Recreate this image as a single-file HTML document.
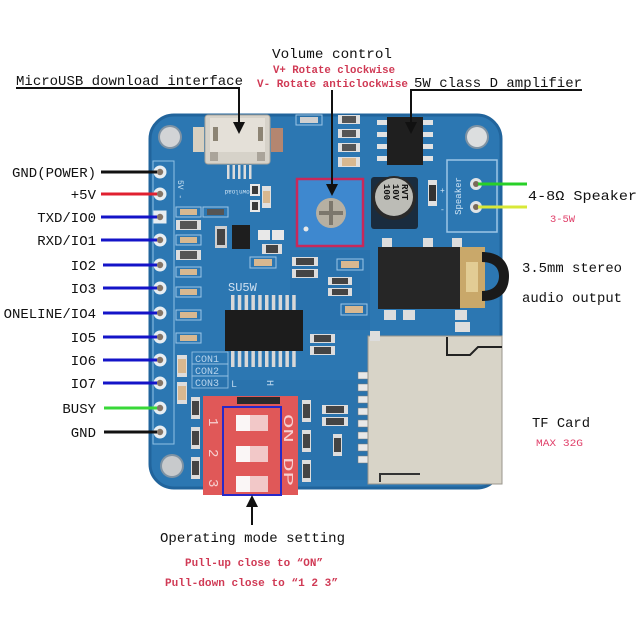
<!DOCTYPE html>
<html><head><meta charset="utf-8"><style>
html,body{margin:0;padding:0;background:#fff;}
svg{display:block}
text{font-family:"Liberation Mono","Noto Sans CJK SC",monospace;}
</style></head><body>
<svg width="639" height="639" viewBox="0 0 639 639" xmlns="http://www.w3.org/2000/svg">
<rect width="639" height="639" fill="#fff"/>

<!-- BOARD -->
<rect x="150" y="115" width="351" height="373" rx="24" fill="#2c77b2" stroke="#21649c" stroke-width="3"/>
<rect x="290" y="250" width="80" height="80" fill="#2870aa" opacity="0.6"/>
<rect x="200" y="380" width="170" height="100" fill="#276fa8" opacity="0.5"/>

<!-- header silkscreen -->
<rect x="153" y="161" width="21" height="283" fill="none" stroke="#8fc0e4" stroke-width="1"/>
<text x="0" y="0" font-size="8" fill="#cfe4f4" transform="translate(178,180) rotate(90)">5V -</text>

<!-- mounting holes -->
<circle cx="170" cy="137" r="12" fill="#7f93a4"/><circle cx="170" cy="137" r="10" fill="#d2d4d6"/>
<circle cx="477" cy="137" r="12" fill="#7f93a4"/><circle cx="477" cy="137" r="10" fill="#dcdedf"/>
<circle cx="172" cy="466" r="12" fill="#7f93a4"/><circle cx="172" cy="466" r="10" fill="#c8cacc"/>

<!-- USB -->
<rect x="193" y="127" width="11" height="25" fill="#d8d0c0"/>
<rect x="271" y="128" width="12" height="24" fill="#b48670"/>
<rect x="205" y="115" width="65" height="49" rx="3" fill="#d6d2c9" stroke="#a8a49c"/>
<rect x="210" y="118" width="55" height="34" fill="#e4e0d8"/>
<rect x="213" y="127" width="5" height="14" fill="#8c8474"/>
<rect x="258" y="127" width="5" height="14" fill="#8c8474"/>
<rect x="210" y="152" width="8" height="9" fill="#aaa49a"/>
<rect x="257" y="152" width="8" height="9" fill="#aaa49a"/>
<g fill="#dcdcdc"><rect x="227" y="165" width="2.5" height="14"/><rect x="232.5" y="165" width="2.5" height="14"/><rect x="238" y="165" width="2.5" height="14"/><rect x="243.5" y="165" width="2.5" height="14"/><rect x="249" y="165" width="2.5" height="14"/></g>
<text x="0" y="0" font-size="6" fill="#cfe4f4" transform="translate(239,190) scale(-1,-1)" text-anchor="middle">Download</text>

<!-- small SMDs top middle -->
<g>
<rect x="250" y="184" width="10" height="12" fill="#e8e8e8"/><rect x="252" y="186" width="6" height="8" fill="#3a3a3a"/>
<rect x="250" y="200" width="10" height="12" fill="#e8e8e8"/><rect x="252" y="202" width="6" height="8" fill="#3a3a3a"/>
<rect x="262" y="186" width="9" height="22" fill="#e0e0e0"/><rect x="263" y="191" width="7" height="12" fill="#d8b890"/>
<rect x="296" y="115" width="26" height="10" fill="none" stroke="#9cc6e6"/><rect x="300" y="117" width="18" height="6" fill="#d0d0d0"/>
<rect x="338" y="115" width="22" height="9" fill="#e0e0e0"/><rect x="342" y="116" width="14" height="7" fill="#555"/>
<rect x="338" y="129" width="22" height="9" fill="#e0e0e0"/><rect x="342" y="130" width="14" height="7" fill="#555"/>
<rect x="338" y="143" width="22" height="9" fill="#e0e0e0"/><rect x="342" y="144" width="14" height="7" fill="#555"/>
<rect x="338" y="157" width="22" height="10" fill="#e0e0e0"/><rect x="342" y="158" width="14" height="8" fill="#d8b890"/>
</g>

<!-- POT -->
<rect x="297" y="179" width="66" height="67" fill="#3e88cf" stroke="#c8285a" stroke-width="2.5"/>
<circle cx="331" cy="213" r="15" fill="#b6b0a2"/>
<path d="M331,201 V225 M319,213 H343" stroke="#7c776c" stroke-width="4"/>
<circle cx="306" cy="229" r="2.5" fill="#e8e8e8"/>

<!-- AMP chip -->
<g fill="#e2e2e2">
<rect x="377" y="120" width="11" height="5"/><rect x="377" y="132" width="11" height="5"/><rect x="377" y="144" width="11" height="5"/><rect x="377" y="156" width="11" height="5"/>
<rect x="422" y="120" width="11" height="5"/><rect x="422" y="132" width="11" height="5"/><rect x="422" y="144" width="11" height="5"/><rect x="422" y="156" width="11" height="5"/>
</g>
<rect x="387" y="117" width="36" height="48" fill="#1f1f1f"/>

<!-- CAP -->
<rect x="371" y="177" width="47" height="52" rx="3" fill="#1a2c3e"/>
<circle cx="394" cy="198" r="22" fill="#2a2a2a"/>
<circle cx="394" cy="197" r="19" fill="#bcbcb6"/>
<g font-size="9" font-weight="bold" fill="#111">
<text transform="translate(384,184) rotate(90)">100</text>
<text transform="translate(393,184) rotate(90)">10V</text>
<text transform="translate(402,184) rotate(90)">RVT</text>
</g>
<rect x="428" y="180" width="9" height="26" fill="#e0e0e0"/><rect x="429" y="185" width="7" height="16" fill="#333"/>
<text x="440" y="193" font-size="8" fill="#cfe4f4">+</text>
<text x="440" y="212" font-size="8" fill="#cfe4f4">-</text>

<!-- SPEAKER box -->
<rect x="447" y="160" width="50" height="72" fill="none" stroke="#9cc6e6" stroke-width="1.5"/>
<text x="0" y="0" font-size="9" fill="#cfe4f4" text-anchor="middle" transform="translate(461,196) rotate(-90)">Speaker</text>
<circle cx="476" cy="184" r="6" fill="#e0e4e6"/><circle cx="476" cy="184" r="3" fill="#7a6a5a"/>
<circle cx="476" cy="207" r="6" fill="#e0e4e6"/><circle cx="476" cy="207" r="3" fill="#7a6a5a"/>

<!-- JACK -->
<rect x="382" y="238" width="10" height="9" fill="#ddd"/><rect x="423" y="238" width="10" height="9" fill="#ddd"/><rect x="452" y="238" width="10" height="9" fill="#ddd"/>
<rect x="378" y="247" width="82" height="62" fill="#262626"/>
<rect x="460" y="247" width="25" height="61" fill="#c9a86a"/>
<rect x="466" y="262" width="12" height="30" fill="#e2cc94"/>
<path d="M482,252 C500,252 509,262 509,276 C509,292 500,301 482,301 L482,291 C494,291 499,284 499,276 C499,268 494,262 482,262 Z" fill="#1a1a1a"/>
<rect x="384" y="310" width="12" height="10" fill="#ddd"/><rect x="403" y="310" width="12" height="10" fill="#ddd"/><rect x="455" y="310" width="12" height="10" fill="#ddd"/>

<!-- SD CARD -->
<rect x="455" y="322" width="15" height="10" fill="#ddd"/>
<g fill="#e8e8e8" stroke="#777" stroke-width="0.5">
<rect x="358" y="372" width="11" height="7"/><rect x="358" y="384" width="11" height="7"/><rect x="358" y="396" width="11" height="7"/><rect x="358" y="408" width="11" height="7"/>
<rect x="358" y="420" width="11" height="7"/><rect x="358" y="432" width="11" height="7"/><rect x="358" y="444" width="11" height="7"/><rect x="358" y="456" width="11" height="7"/>
</g>
<rect x="368" y="336" width="134" height="148" fill="#d8d4c8" stroke="#9a968c"/>
<path d="M447,337 V355 H470 L478,347 H502" fill="none" stroke="#222" stroke-width="2"/>
<path d="M380,482 V474 H420" fill="none" stroke="#333" stroke-width="2"/>
<rect x="370" y="331" width="10" height="10" fill="#ddd"/>

<!-- MAIN CHIP -->
<text x="228" y="291" font-size="12" fill="#cfe0f0">SU5W</text>
<g fill="#d8d8d8">
<rect x="231" y="295" width="3.5" height="16"/><rect x="237.8" y="295" width="3.5" height="16"/><rect x="244.6" y="295" width="3.5" height="16"/><rect x="251.4" y="295" width="3.5" height="16"/><rect x="258.2" y="295" width="3.5" height="16"/><rect x="265" y="295" width="3.5" height="16"/><rect x="271.8" y="295" width="3.5" height="16"/><rect x="278.6" y="295" width="3.5" height="16"/><rect x="285.4" y="295" width="3.5" height="16"/><rect x="292.2" y="295" width="3.5" height="16"/>
<rect x="231" y="350" width="3.5" height="17"/><rect x="237.8" y="350" width="3.5" height="17"/><rect x="244.6" y="350" width="3.5" height="17"/><rect x="251.4" y="350" width="3.5" height="17"/><rect x="258.2" y="350" width="3.5" height="17"/><rect x="265" y="350" width="3.5" height="17"/><rect x="271.8" y="350" width="3.5" height="17"/><rect x="278.6" y="350" width="3.5" height="17"/><rect x="285.4" y="350" width="3.5" height="17"/><rect x="292.2" y="350" width="3.5" height="17"/>
</g>
<rect x="225" y="310" width="78" height="41" fill="#1c1c1c"/>

<!-- misc SMDs middle -->
<g>
<rect x="232" y="225" width="18" height="24" fill="#1e1e1e"/>
<rect x="215" y="226" width="12" height="22" fill="#cfcfcf"/><rect x="217" y="229" width="8" height="16" fill="#444"/>
<rect x="258" y="230" width="12" height="10" fill="#e8e8e8"/><rect x="272" y="230" width="12" height="10" fill="#e8e8e8"/>
<rect x="262" y="244" width="20" height="10" fill="#ddd"/><rect x="266" y="245" width="12" height="8" fill="#444"/>
<rect x="250" y="257" width="26" height="11" fill="none" stroke="#9cc6e6"/><rect x="254" y="259" width="18" height="7" fill="#d8b890"/>
<rect x="292" y="257" width="26" height="9" fill="#ddd"/><rect x="296" y="258" width="18" height="7" fill="#444"/>
<rect x="292" y="269" width="26" height="9" fill="#ddd"/><rect x="296" y="270" width="18" height="7" fill="#444"/>
<rect x="337" y="259" width="26" height="11" fill="none" stroke="#9cc6e6"/><rect x="341" y="261" width="18" height="7" fill="#d8b890"/>
<rect x="328" y="277" width="24" height="8" fill="#ddd"/><rect x="332" y="278" width="16" height="6" fill="#444"/>
<rect x="328" y="288" width="24" height="8" fill="#ddd"/><rect x="332" y="289" width="16" height="6" fill="#444"/>
<rect x="341" y="304" width="26" height="11" fill="none" stroke="#9cc6e6"/><rect x="345" y="306" width="18" height="7" fill="#d8b890"/>
<rect x="310" y="334" width="25" height="9" fill="#ddd"/><rect x="314" y="335" width="17" height="7" fill="#444"/>
<rect x="310" y="346" width="25" height="9" fill="#ddd"/><rect x="314" y="347" width="17" height="7" fill="#444"/>
<rect x="322" y="405" width="26" height="9" fill="#ddd"/><rect x="326" y="406" width="18" height="7" fill="#444"/>
<rect x="322" y="417" width="26" height="9" fill="#ddd"/><rect x="326" y="418" width="18" height="7" fill="#444"/>
<rect x="333" y="434" width="9" height="22" fill="#ddd"/><rect x="334" y="438" width="7" height="14" fill="#444"/>
<rect x="302" y="400" width="9" height="22" fill="#ddd"/><rect x="303" y="404" width="7" height="14" fill="#444"/>
<rect x="302" y="430" width="9" height="22" fill="#ddd"/><rect x="303" y="434" width="7" height="14" fill="#444"/>
<rect x="302" y="460" width="9" height="22" fill="#ddd"/><rect x="303" y="464" width="7" height="14" fill="#444"/>
</g>

<!-- left column SMDs -->
<g>
<rect x="176" y="207" width="25" height="10" fill="none" stroke="#9cc6e6"/><rect x="180" y="209" width="17" height="6" fill="#d8b890"/>
<rect x="203" y="207" width="25" height="10" fill="none" stroke="#9cc6e6"/><rect x="207" y="209" width="17" height="6" fill="#555"/>
<rect x="176" y="220" width="25" height="10" fill="#ddd"/><rect x="180" y="221" width="17" height="8" fill="#555"/>
<rect x="176" y="235" width="25" height="10" fill="none" stroke="#9cc6e6"/><rect x="180" y="237" width="17" height="6" fill="#d8b890"/>
<rect x="176" y="250" width="25" height="10" fill="#ddd"/><rect x="180" y="251" width="17" height="8" fill="#555"/>
<rect x="176" y="267" width="25" height="10" fill="none" stroke="#9cc6e6"/><rect x="180" y="269" width="17" height="6" fill="#d8b890"/>
<rect x="176" y="287" width="25" height="10" fill="none" stroke="#9cc6e6"/><rect x="180" y="289" width="17" height="6" fill="#d8b890"/>
<rect x="176" y="310" width="25" height="10" fill="none" stroke="#9cc6e6"/><rect x="180" y="312" width="17" height="6" fill="#d8b890"/>
<rect x="176" y="333" width="25" height="10" fill="none" stroke="#9cc6e6"/><rect x="180" y="335" width="17" height="6" fill="#d8b890"/>
<rect x="177" y="355" width="10" height="22" fill="#ddd"/><rect x="178" y="359" width="8" height="14" fill="#d8b890"/>
<rect x="177" y="382" width="10" height="22" fill="#ddd"/><rect x="178" y="386" width="8" height="14" fill="#d8b890"/>
<rect x="191" y="397" width="9" height="22" fill="#ddd"/><rect x="192" y="401" width="7" height="14" fill="#444"/>
<rect x="191" y="427" width="9" height="22" fill="#ddd"/><rect x="192" y="431" width="7" height="14" fill="#444"/>
<rect x="191" y="457" width="9" height="22" fill="#ddd"/><rect x="192" y="461" width="7" height="14" fill="#444"/>
</g>

<!-- CON labels -->
<g fill="none" stroke="#9cc6e6" stroke-width="0.8">
<rect x="192" y="352" width="36" height="12"/><rect x="192" y="364" width="36" height="12"/><rect x="192" y="376" width="36" height="12"/>
</g>
<g font-size="10" fill="#b8d4ec">
<text x="195" y="362">CON1</text><text x="195" y="374">CON2</text><text x="195" y="386">CON3</text>
<text x="231" y="387">L</text><text x="268" y="387" transform="rotate(90,271,383)">H</text>
</g>

<!-- DIP switch -->
<rect x="203" y="396" width="95" height="99" fill="#e05858"/>
<rect x="237" y="397" width="43" height="7" fill="#2a2a2a"/>
<g>
<rect x="236" y="415" width="32" height="16" fill="#f2c8c8"/><rect x="236" y="415" width="14" height="16" fill="#faf6f6"/>
<rect x="236" y="446" width="32" height="16" fill="#f2c8c8"/><rect x="236" y="446" width="14" height="16" fill="#faf6f6"/>
<rect x="236" y="476" width="32" height="16" fill="#f2c8c8"/><rect x="236" y="476" width="14" height="16" fill="#faf6f6"/>
</g>
<g font-size="14" fill="#f6d0d0">
<text transform="translate(209,418) rotate(90)">1</text>
<text transform="translate(209,449) rotate(90)">2</text>
<text transform="translate(209,479) rotate(90)">3</text>
<text transform="translate(284,414) rotate(90)" textLength="72" lengthAdjust="spacingAndGlyphs">ON DP</text>
</g>
<rect x="223" y="407" width="58" height="88" fill="none" stroke="#2828c8" stroke-width="2"/>

<!-- HEADER PINS -->
<g>
<circle cx="160" cy="172" r="6.5" fill="#e8eef2"/><circle cx="160" cy="172" r="3.2" fill="#857668"/>
<circle cx="160" cy="194" r="6.5" fill="#e8eef2"/><circle cx="160" cy="194" r="3.2" fill="#857668"/>
<rect x="153.5" y="210.5" width="13" height="13" fill="#e8eef2"/><circle cx="160" cy="217" r="3.2" fill="#857668"/>
<circle cx="160" cy="240" r="6.5" fill="#e8eef2"/><circle cx="160" cy="240" r="3.2" fill="#857668"/>
<circle cx="160" cy="265" r="6.5" fill="#e8eef2"/><circle cx="160" cy="265" r="3.2" fill="#857668"/>
<circle cx="160" cy="288" r="6.5" fill="#e8eef2"/><circle cx="160" cy="288" r="3.2" fill="#857668"/>
<circle cx="160" cy="313" r="6.5" fill="#e8eef2"/><circle cx="160" cy="313" r="3.2" fill="#857668"/>
<circle cx="160" cy="337" r="6.5" fill="#e8eef2"/><circle cx="160" cy="337" r="3.2" fill="#857668"/>
<circle cx="160" cy="360" r="6.5" fill="#e8eef2"/><circle cx="160" cy="360" r="3.2" fill="#857668"/>
<circle cx="160" cy="383" r="6.5" fill="#e8eef2"/><circle cx="160" cy="383" r="3.2" fill="#857668"/>
<circle cx="160" cy="408" r="6.5" fill="#e8eef2"/><circle cx="160" cy="408" r="3.2" fill="#857668"/>
<circle cx="160" cy="432" r="6.5" fill="#e8eef2"/><circle cx="160" cy="432" r="3.2" fill="#857668"/>
</g>

<!-- PIN LINES -->
<g stroke-width="3" fill="none">
<path d="M101,172 H157" stroke="#111"/>
<path d="M101,194 H157" stroke="#e02030"/>
<path d="M101,217 H157" stroke="#1414c8"/>
<path d="M101,240 H157" stroke="#1414c8"/>
<path d="M103,265 H157" stroke="#1414c8"/>
<path d="M103,288 H157" stroke="#1414c8"/>
<path d="M103,313 H157" stroke="#1414c8"/>
<path d="M103,337 H157" stroke="#1414c8"/>
<path d="M103,360 H157" stroke="#1414c8"/>
<path d="M103,383 H157" stroke="#1414c8"/>
<path d="M104,408 H157" stroke="#38d838"/>
<path d="M104,432 H157" stroke="#111"/>
<path d="M478,184 H527" stroke="#28d028"/>
<path d="M478,207 H527" stroke="#d8e838"/>
</g>

<!-- LEFT LABELS -->
<g font-size="14" fill="#111" text-anchor="end">
<text x="96" y="177">GND(POWER)</text>
<text x="96" y="199">+5V</text>
<text x="96" y="222">TXD/IO0</text>
<text x="96" y="245">RXD/IO1</text>
<text x="96" y="270">IO2</text>
<text x="96" y="293">IO3</text>
<text x="96" y="318">ONELINE/IO4</text>
<text x="96" y="342">IO5</text>
<text x="96" y="365">IO6</text>
<text x="96" y="388">IO7</text>
<text x="96" y="413">BUSY</text>
<text x="96" y="437">GND</text>
</g>

<!-- TOP LABELS & ARROWS -->
<g font-size="14" fill="#111">
<text x="16" y="85" textLength="227" lengthAdjust="spacingAndGlyphs">MicroUSB download interface</text>
<text x="272" y="58" textLength="120" lengthAdjust="spacingAndGlyphs">Volume control</text>
<text x="414" y="87" textLength="168" lengthAdjust="spacingAndGlyphs">5W class D amplifier</text>
<text x="528" y="200" textLength="109" lengthAdjust="spacingAndGlyphs">4-8Ω Speaker</text>
<text x="522" y="272" textLength="100" lengthAdjust="spacingAndGlyphs">3.5mm stereo</text>
<text x="522" y="302" textLength="100" lengthAdjust="spacingAndGlyphs">audio output</text>
<text x="532" y="427" textLength="58" lengthAdjust="spacingAndGlyphs">TF Card</text>
<text x="160" y="542" textLength="185" lengthAdjust="spacingAndGlyphs">Operating mode setting</text>
</g>
<g font-size="11" font-weight="bold" fill="#d03a55">
<text x="273" y="73" textLength="122" lengthAdjust="spacingAndGlyphs">V+ Rotate clockwise</text>
<text x="257" y="87" textLength="151" lengthAdjust="spacingAndGlyphs">V- Rotate anticlockwise</text>
<text x="185" y="566" textLength="138" lengthAdjust="spacingAndGlyphs">Pull-up close to “ON”</text>
<text x="165" y="586" textLength="173" lengthAdjust="spacingAndGlyphs">Pull-down close to “1 2 3”</text>
</g>
<g font-size="10" fill="#e0406a">
<text x="550" y="222" textLength="25" lengthAdjust="spacingAndGlyphs">3-5W</text>
<text x="536" y="446" textLength="47" lengthAdjust="spacingAndGlyphs">MAX 32G</text>
</g>

<g stroke="#111" stroke-width="2" fill="none">
<path d="M16,88 H239 V124"/>
<path d="M332,90 V186"/>
<path d="M582,90 H411 V124"/>
<path d="M252,525 V504"/>
</g>
<g fill="#111">
<polygon points="233,122 245,122 239,134"/>
<polygon points="326,184 338,184 332,196"/>
<polygon points="405,122 417,122 411,134"/>
<polygon points="246,507 258,507 252,495"/>
</g>
</svg>
</body></html>
